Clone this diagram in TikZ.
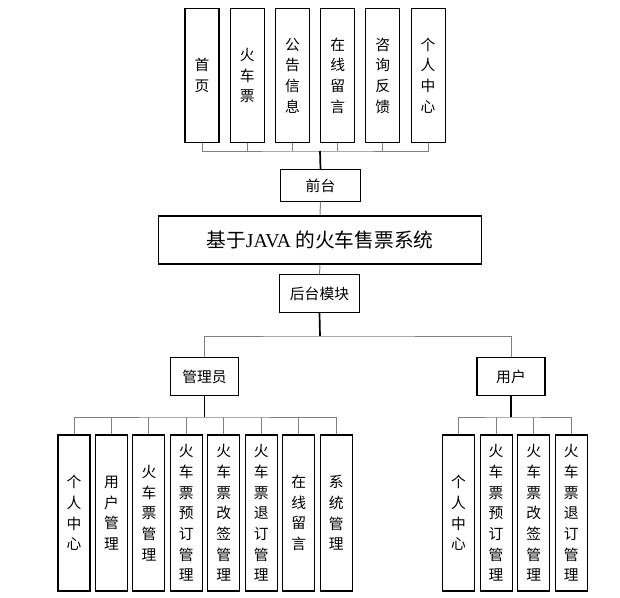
\documentclass[tikz,border=0pt]{standalone}
\usepackage{fontspec}
\setmainfont{Noto Sans CJK SC}
\newfontfamily\latinserif{Liberation Serif}
\usetikzlibrary{positioning}
\definecolor{cline}{HTML}{808080}
\tikzset{
  vbox/.style={draw, thick, fill=white, minimum width=0.85cm, minimum height=3.33cm, inner sep=0pt, align=center, font=\fontsize{10.5}{14.7}\selectfont},
  sbox/.style={vbox, minimum width=0.8cm, minimum height=3.9cm},
  hbox/.style={draw, thick, fill=white, minimum height=0.93cm, minimum width=1.98cm, inner sep=0pt, font=\fontsize{10.5}{13}\selectfont},
  bus/.style={draw=cline, line width=0.7pt},
  trunk/.style={draw=black, line width=1.2pt},
}

\begin{document}
\begin{tikzpicture}[x=0.025cm, y=-0.025cm]
    \useasboundingbox (0,0) rectangle (620,598);
    % front end
    \node[vbox] (q1) at (202,75.5) {首\\页};
    \node[vbox, right=0.252cm of q1] (q2) {火\\车\\票};
    \node[vbox, right=0.252cm of q2] (q3) {公\\告\\信\\息};
    \node[vbox, right=0.252cm of q3] (q4) {在\\线\\留\\言};
    \node[vbox, right=0.252cm of q4] (q5) {咨\\询\\反\\馈};
    \node[vbox, right=0.252cm of q5] (q6) {个\\人\\中\\心};
    \node[hbox, minimum height=0.78cm] (qt) at (320.5,185.5) {前台};
    \coordinate (qbus) at (320,151);
    \draw[bus] (q1.south) |- (qbus) -| (q6.south);
    \foreach \n in {q2,q3,q4,q5} \draw[bus] (\n.south) -- (\n.south |- qbus);
    \draw[trunk] (qbus) -- (qt.north);
    % system
    \node[hbox, minimum width=8.08cm, minimum height=1.2cm, font=\fontsize{14}{16}\selectfont] (sys) at (320,240) {基于{\latinserif JAVA} 的火车售票系统};
    \node[hbox] (ht) at (319.5,293.5) {后台模块};
    \draw[bus] (qt.south) -- (sys.north);
    \draw[bus] (sys.south) -- (ht.north);
    \coordinate (hbus) at (320,336);
    \node[hbox, minimum width=1.68cm] (adm) at (204.5,376.5) {管理员};
    \node[hbox, minimum width=1.7cm] (usr) at (511,376.5) {用户};
    \draw[trunk] (ht.south) -- (hbus);
    \draw[bus] (adm.north) |- (hbus) -| (usr.north);
    % admin
    \node[sbox] (a1) at (74,513) {个\\人\\中\\心};
    \node[sbox, right=0.108cm of a1] (a2) {用\\户\\管\\理};
    \node[sbox, right=0.108cm of a2] (a3) {火\\车\\票\\管\\理};
    \node[sbox, right=0.108cm of a3] (a4) {火\\车\\票\\预\\订\\管\\理};
    \node[sbox, right=0.108cm of a4] (a5) {火\\车\\票\\改\\签\\管\\理};
    \node[sbox, right=0.108cm of a5] (a6) {火\\车\\票\\退\\订\\管\\理};
    \node[sbox, right=0.108cm of a6] (a7) {在\\线\\留\\言};
    \node[sbox, right=0.108cm of a7] (a8) {系\\统\\管\\理};
    \coordinate (abus) at (204.5,417);
    \draw[bus] (a1.north) |- (abus) -| (a8.north);
    \foreach \n in {a2,a3,a4,a5,a6,a7} \draw[bus] (\n.north) -- (\n.north |- abus);
    \draw[trunk] (adm.south) -- (abus);
    % user
    \node[sbox] (u1) at (458.5,513) {个\\人\\中\\心};
    \node[sbox, right=0.112cm of u1] (u2) {火\\车\\票\\预\\订\\管\\理};
    \node[sbox, right=0.112cm of u2] (u3) {火\\车\\票\\改\\签\\管\\理};
    \node[sbox, right=0.112cm of u3] (u4) {火\\车\\票\\退\\订\\管\\理};
    \coordinate (ubus) at (511,417);
    \draw[bus] (u1.north) |- (ubus) -| (u4.north);
    \foreach \n in {u2,u3} \draw[bus] (\n.north) -- (\n.north |- ubus);
    \draw[trunk] (usr.south) -- (ubus);
  \end{tikzpicture}
\end{document}
